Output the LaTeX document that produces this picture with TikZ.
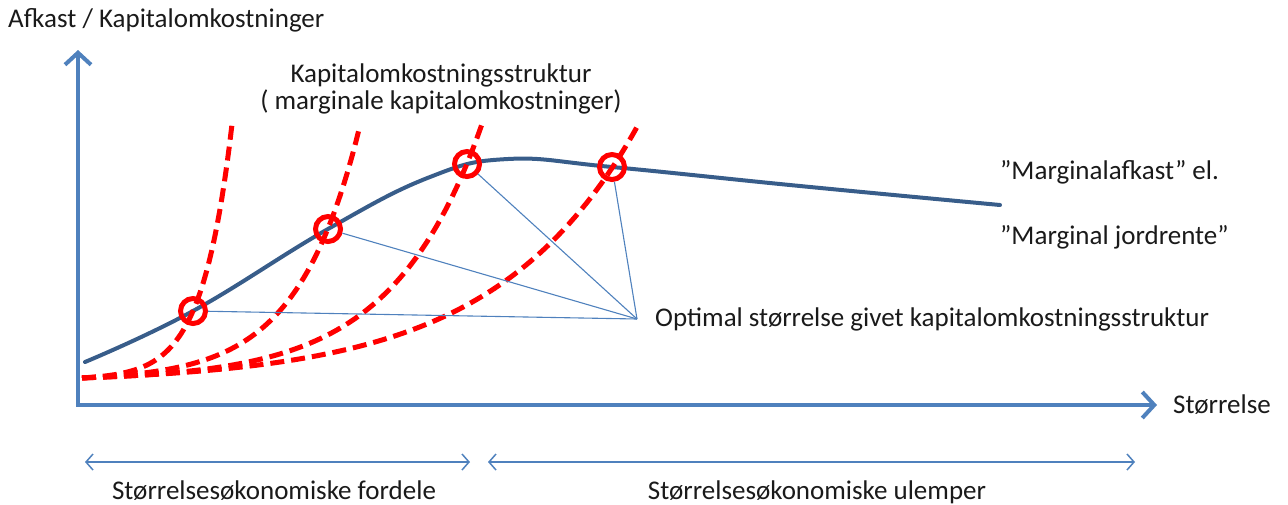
\documentclass[tikz,border=0pt]{standalone}
\usepackage{fontspec}
\setmainfont{Carlito}
\usepackage{xcolor}
\usetikzlibrary{arrows.meta, positioning}

\definecolor{axisblue}{HTML}{4F81BD}
\definecolor{curveblue}{HTML}{385D8A}
\definecolor{textdark}{HTML}{1A1A1A}

\begin{document}
\begin{tikzpicture}[
        x=1pt, y=-1pt,
        % 坐标轴样式
        axis/.style={
            draw=axisblue,
            line width=4pt,
            line join=miter,
            {Straight Barb[length=12pt,width=26pt]}-{Straight Barb[length=12pt,width=26pt]}
        },
        % 边际收益曲线
        margcurve/.style={
            draw=curveblue,
            line width=4pt,
            line cap=round
        },
        % 资本成本曲线
        costcurve/.style={
            draw=red,
            line width=5pt,
            dash pattern=on 14pt off 7pt
        },
        % 最优点圆圈
        ring/.style={
            circle,
            draw=red,
            line width=5pt,
            minimum size=25pt,
            inner sep=0pt
        },
        % 细引线
        guide/.style={
            draw=axisblue,
            line width=1.1pt
        },
        % 底部区间箭头
        span/.style={
            draw=axisblue,
            line width=1.5pt,
            {Straight Barb[length=7pt,width=16pt]}-{Straight Barb[length=7pt,width=16pt]}
        },
        % 标签文字样式
        label_text/.style={
            font=\fontsize{27}{32}\selectfont,
            text=textdark,
            inner sep=0pt
        }
    ]

    \useasboundingbox (0,0) rectangle (1288,504);

    % 1. 坐标轴
    \coordinate (origin) at (78,405);
    \coordinate (ytop) at (78,50);
    \coordinate (xend) at (1157,405);
    \draw[axis] (ytop) -- (origin) -- (xend);
    \node[label_text, anchor=west] (ylabel) at (8,20) {Afkast / Kapitalomkostninger};
    \node[label_text, right=16pt of xend] (xlabel) {Størrelse};

    % 2. 边际收益曲线
    \draw[margcurve] plot[smooth, tension=0.7] coordinates {(85,362) (193,311) (328,229) (430,177) (508,159) (612,167) (800,186) (1000,205)};
    \node[label_text, anchor=west] (marglabel) at (1000,172) {”Marginalafkast” el.};
    \node[label_text, anchor=west] (rentlabel) at (1000,237) {”Marginal jordrente”};

    % 3. 资本成本曲线 (四条)
    \draw[costcurve] plot[domain=82:232, samples=60] (\x, {378-1.52*(exp(0.0337*(\x-80))-1)});
    \draw[costcurve] plot[domain=82:360, samples=70] (\x, {378-2.78*(exp(0.01615*(\x-80))-1)});
    \draw[costcurve] plot[domain=82:482, samples=80] (\x, {378-2.9*(exp(0.01115*(\x-80))-1)});
    \draw[costcurve] plot[domain=82:638, samples=90] (\x, {378-5.27*(exp(0.00698*(\x-80))-1)});
    \node[label_text] (costlabel) at (441,75) {Kapitalomkostningsstruktur};
    \node[label_text] (costsub) at (441,102) {( marginale kapitalomkostninger)};

    % 4. 最优点及引线
    \node[ring] (opt1) at (193,311) {};
    \node[ring] (opt2) at (328,229) {};
    \node[ring] (opt3) at (467,164) {};
    \node[ring] (opt4) at (612,167) {};
    \coordinate (focal) at (637,319);
    \draw[guide] (opt1) -- (focal);
    \draw[guide] (opt2) -- (focal);
    \draw[guide] (opt3) -- (focal);
    \draw[guide] (opt4) -- (focal);
    \node[label_text, right=18pt of focal] (optlabel) {Optimal størrelse givet kapitalomkostningsstruktur};

    % 5. 规模经济区间
    \coordinate (proleft) at (85,462);
    \coordinate (proright) at (470,462);
    \coordinate (conleft) at (488,462);
    \coordinate (conright) at (1135,462);
    \draw[span] (proleft) -- (proright);
    \draw[span] (conleft) -- (conright);
    \node[label_text, anchor=base] (prolabel) at (274,499) {Størrelsesøkonomiske fordele};
    \node[label_text, anchor=base] (conlabel) at (817,499) {Størrelsesøkonomiske ulemper};

    \end{tikzpicture}
\end{document}
